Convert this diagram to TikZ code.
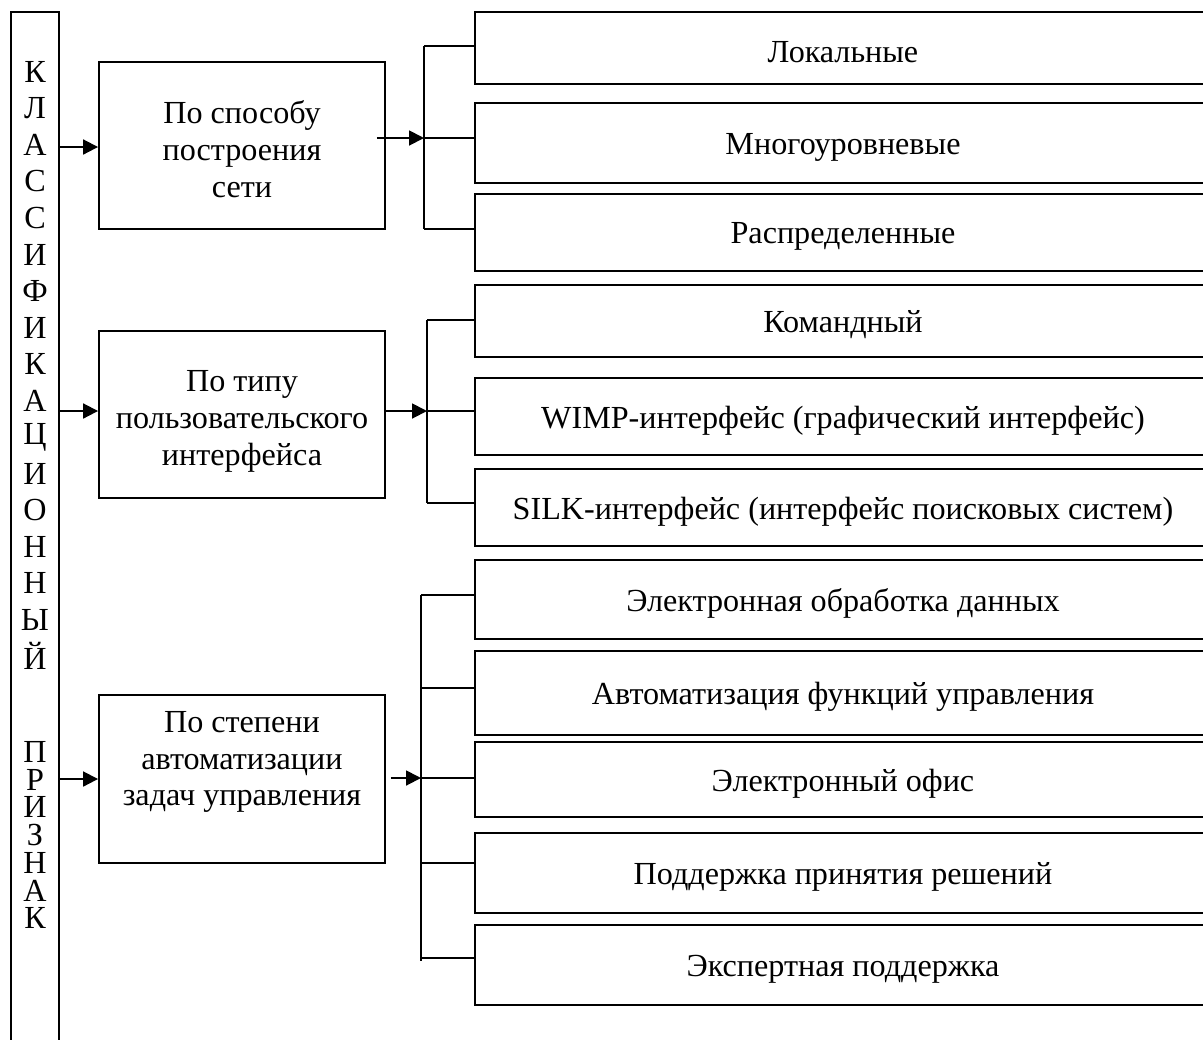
\documentclass[tikz,border=0pt]{standalone}
\usepackage{fontspec}
\setmainfont{Liberation Serif}
\usetikzlibrary{arrows.meta}

\begin{document}
\begin{tikzpicture}
[x=0.02cm,y=-0.02cm,
  arrowDecorate/.style={-{Triangle[length=8.5pt,width=8.5pt]},line width=1.1pt},%
  lineDecorate/.style={line width=1.1pt},%
  textDecorate/.style={font=\fontsize{18.3}{21}\selectfont},%
  groupDecorate/.style={draw,line width=1.1pt,inner sep=0pt,minimum width=5.72cm},%
  itemDecorate/.style={draw,line width=1.1pt,inner sep=0pt,minimum width=14.72cm}]
\useasboundingbox (0,0) rectangle (1203,1039);
\clip (0,0) rectangle (1203,1039);
%% left column
\node (kl) at (35,536) [draw,line width=1.1pt,minimum width=0.96cm,minimum height=20.96cm] {};
\foreach \ch [count=\i from 0] in {К,Л,А,С,С,И,Ф,И,К,А,Ц,И,О,Н,Н,Ы,Й}
{
  \node (k\i) at (35,{72+\i*36.5}) [textDecorate,inner sep=0pt] {\ch};
}
\foreach \ch [count=\i from 0] in {П,Р,И,З,Н,А,К}
{
  \node (p\i) at (35,{752+\i*27.7}) [textDecorate,inner sep=0pt] {\ch};
}
%% groups
\node (b1) at (242,145.5) [groupDecorate,minimum height=3.34cm,
  label={[textDecorate,align=center,yshift=-0.08cm]center:По способу\\построения\\сети}] {};
\node (b2) at (242,414.5) [groupDecorate,minimum height=3.34cm,
  label={[textDecorate,align=center,yshift=-0.14cm]center:По типу\\пользовательского\\интерфейса}] {};
\node (b3) at (242,779) [groupDecorate,minimum height=3.36cm,
  label={[textDecorate,align=center,yshift=0.34cm]center:По степени\\автоматизации\\задач управления}] {};
%% items
\foreach \nodename/\top/\bot/\txt in {
  r11/12/84/Локальные, r12/103/183/Многоуровневые, r13/194/271/Распределенные,
  r21/285/357/Командный, r22/378/455/WIMP-интерфейс (графический интерфейс),
  r23/469/546/SILK-интерфейс (интерфейс поисковых систем),
  r31/560/639/Электронная обработка данных, r32/651/735/Автоматизация функций управления,
  r33/742/817/Электронный офис, r34/833/913/Поддержка принятия решений,
  r35/925/1005/Экспертная поддержка}
{
  \node (\nodename) at (843,{(\top+\bot)/2}) [itemDecorate,minimum height={(\bot-\top)*0.02cm},
    label={[textDecorate,yshift=-0.08cm]center:\txt}] {};
}
%% bars
\coordinate (s1) at (424,46);  \coordinate (m1) at (424,138); \coordinate (e1) at (424,229);
\coordinate (s2) at (427,320); \coordinate (m2) at (427,411); \coordinate (e2) at (427,503);
\coordinate (s3) at (421,595); \coordinate (m3) at (421,778); \coordinate (e3) at (421,961);
\coordinate (c32) at (421,688); \coordinate (c34) at (421,863); \coordinate (c35) at (421,958);
\foreach \i in {1,2,3}
{
  \draw[lineDecorate] (s\i) -- (e\i);
}
\draw[arrowDecorate] (kl.east |- 0,147) -- (b1.west |- 0,147);
\draw[arrowDecorate] (kl.east |- 0,411) -- (b2.west |- 0,411);
\draw[arrowDecorate] (kl.east |- b3.west) -- (b3.west);
\draw[arrowDecorate] ([xshift=-9*0.02cm]b1.east |- m1) -- (m1);
\draw[arrowDecorate] ([xshift=-2*0.02cm]b2.east |- m2) -- (m2);
\draw[arrowDecorate] ([xshift=5*0.02cm]b3.east |- m3) -- (m3);
%% branches
\path
\foreach \startnode/\endnode in {s1/r11, m1/r12, e1/r13, s2/r21, m2/r22, e2/r23,
  s3/r31, c32/r32, m3/r33, c34/r34, c35/r35}
{
  (\startnode) edge[lineDecorate] (\startnode -| \endnode.west)
};
\end{tikzpicture}
\end{document}
